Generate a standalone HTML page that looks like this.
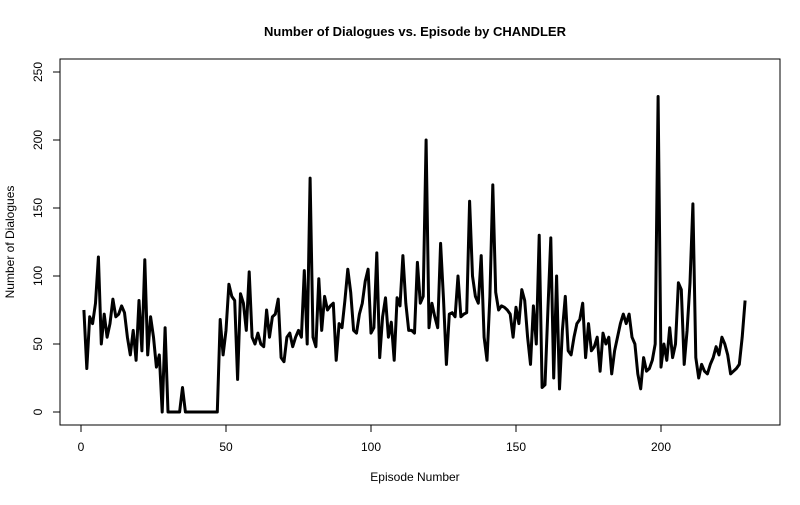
<!DOCTYPE html>
<html><head><meta charset="utf-8"><style>
body{margin:0;background:#fff;}
svg text{font-family:"Liberation Sans",Arial,sans-serif;fill:#000;}
</style></head><body>
<svg id="chart" width="800" height="500">
<text x="415" y="36" text-anchor="middle" font-size="13" font-weight="bold">Number of Dialogues vs. Episode by CHANDLER</text>
<rect x="60" y="59" width="720" height="366" fill="none" stroke="#000"/>
<g id="xaxis"></g>
<g id="yaxis"></g>
<text x="415" y="481" text-anchor="middle" font-size="12">Episode Number</text>
<text transform="translate(14,242) rotate(-90)" text-anchor="middle" font-size="12">Number of Dialogues</text>
<path id="series" fill="none" stroke="#000" stroke-width="3" stroke-linejoin="round"/>
</svg>
<script>
const xTicks=[0,50,100,150,200];
const yTicks=[0,50,100,150,200,250];
const dialogues=[75,32,70,65,80,114,50,72,55,65,83,70,72,78,73,55,42,60,38,82,45,112,42,70,55,33,42,0,62,0,0,0,0,0,18,0,0,0,0,0,0,0,0,0,0,0,0,
68,42,60,94,85,82,24,87,80,60,103,55,50,58,50,48,75,55,70,72,83,40,37,55,58,48,55,60,55,104,50,172,55,48,98,60,85,75,78,80,38,65,62,82,105,88,60,58,72,80,96,105,58,62,117,40,70,84,55,66,38,84,78,115,80,60,60,58,110,80,85,200,62,80,70,62,124,83,35,72,73,70,100,70,72,73,155,100,85,80,115,55,38,85,167,88,75,78,77,75,72,55,77,65,90,82,55,35,78,50,130,18,20,75,128,25,100,17,60,85,45,42,55,65,68,80,40,65,45,48,55,30,58,50,55,28,45,55,65,72,65,72,55,50,28,17,40,30,32,38,50,232,33,50,38,62,40,50,95,90,35,60,95,153,40,25,35,30,28,35,40,48,42,55,50,42,28,30,32,35,55,82];
const X=v=>81+v*2.9, Y=v=>412-v*1.36;
const ns="http://www.w3.org/2000/svg";
const xa=document.getElementById('xaxis'), ya=document.getElementById('yaxis');
function mk(t,a,p){const e=document.createElementNS(ns,t);for(const k in a)e.setAttribute(k,a[k]);p.appendChild(e);return e;}
mk('line',{x1:X(xTicks[0]),x2:X(xTicks[xTicks.length-1]),y1:425,y2:425,stroke:'#000'},xa);
xTicks.forEach(t=>{
  const l=mk('line',{x1:X(t),x2:X(t),y1:425,y2:432,stroke:'#000'},xa);
  
  
  const tx=mk('text',{x:X(t),y:451,'text-anchor':'middle','font-size':12},xa);tx.textContent=t;
  
  
});
mk('line',{x1:60,x2:60,y1:Y(yTicks[0]),y2:Y(yTicks[yTicks.length-1]),stroke:'#000'},ya);
yTicks.forEach(t=>{
  const l=mk('line',{x1:53,x2:60,y1:Y(t),y2:Y(t),stroke:'#000'},ya);
  
  
  const tx=mk('text',{transform:`translate(42,${Y(t)}) rotate(-90)`,'text-anchor':'middle','font-size':12},ya);tx.textContent=t;
  
  
});
document.getElementById('series').setAttribute('d',dialogues.map((v,i)=>(i?'L':'M')+X(i+1).toFixed(1)+','+Y(v).toFixed(1)).join(''));
</script>
</body></html>
